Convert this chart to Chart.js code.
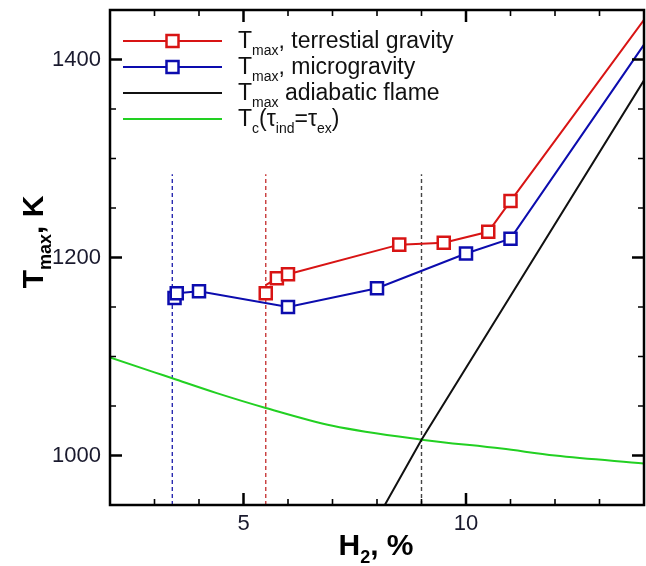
<!DOCTYPE html>
<html>
<head>
<meta charset="utf-8">
<script src="https://cdn.jsdelivr.net/npm/chart.js@4/dist/chart.umd.min.js"></script>
<style>
  html, body { margin: 0; padding: 0; background: #fff; }
  canvas { display: block; }
</style>
</head>
<body>
<canvas id="c" width="646" height="566"></canvas>
<script>
// Maximum flame temperature vs hydrogen concentration
// Terrestrial gravity: curve path (first point starts the line, last point is the extension)
const h2Terrestrial   = [5.5, 5.75, 6.0, 8.5, 9.5, 10.5, 11.0, 14.0];
const tmaxTerrestrial = [1172, 1179, 1183, 1213, 1215, 1226, 1257, 1440];
// lone terrestrial measurement at the lean limit
const h2TerrestrialExtra   = [5.5];
const tmaxTerrestrialExtra = [1164];

// Microgravity
const h2Micro   = [3.5, 4.0, 6.0, 8.0, 10.0, 11.0, 14.0];
const tmaxMicro = [1164, 1166, 1150, 1169, 1204, 1219, 1415];
const h2MicroExtra   = [3.45];
const tmaxMicroExtra = [1159];

// Adiabatic flame temperature
const h2Adiabatic   = [8.0, 9.0, 14.0];
const tmaxAdiabatic = [936, 1016, 1379];

// Crossover temperature Tc (tau_ind = tau_ex)
const h2Crossover = [2, 3, 3.4, 4.4, 5.5, 7, 9, 10.8, 12, 14];
const tCrossover  = [1099, 1084, 1078, 1063, 1048, 1030, 1016, 1007, 1000, 992];

// Lean limits (vertical dashed markers)
const limitMicro = 3.4;
const limitTerrestrial = 5.5;
const limitAdiabatic = 9.0;
const limitLow = 950;
const limitHigh = 1284;

// Axis settings
const xMin = 2, xMax = 14, xStep = 1;
const yMin = 950, yMax = 1450, yStep = 50;
const xLabelled = [5, 10];
const yLabelled = [1000, 1200, 1400];

const RED = '#d81414';
const BLUE = '#0c0cae';
const GREEN = '#22d022';
const BLACK = '#111111';

const pts = (xs, ys) => xs.map((v, i) => ({ x: v, y: ys[i] }));

// draws text with subscript parts: [[text, isSub], ...]
function richText(ctx, parts, x, y, size, subSize, subDrop, weight) {
  let cx = x;
  parts.forEach(([t, sub]) => {
    ctx.font = `${weight} ${sub ? subSize : size}px "Liberation Sans", Arial, sans-serif`;
    ctx.fillText(t, cx, sub ? y + subDrop : y);
    cx += ctx.measureText(t).width;
  });
  return cx - x;
}
function richWidth(ctx, parts, size, subSize, weight) {
  let w = 0;
  parts.forEach(([t, sub]) => {
    ctx.font = `${weight} ${sub ? subSize : size}px "Liberation Sans", Arial, sans-serif`;
    w += ctx.measureText(t).width;
  });
  return w;
}

const legendItems = [
  { color: RED, marker: true, parts: [['T', 0], ['max', 1], [', terrestial gravity', 0]] },
  { color: BLUE, marker: true, parts: [['T', 0], ['max', 1], [', microgravity', 0]] },
  { color: BLACK, marker: false, parts: [['T', 0], ['max', 1], [' adiabatic flame', 0]] },
  { color: GREEN, marker: false, parts: [['T', 0], ['c', 1], ['(τ', 0], ['ind', 1], ['=τ', 0], ['ex', 1], [')', 0]] }
];

const decorations = {
  id: 'decorations',
  afterDatasetsDraw(chart) {
    const { ctx, chartArea: a, scales: { x, y } } = chart;
    ctx.save();
    // tick marks pointing inward on all four sides
    ctx.strokeStyle = '#000';
    ctx.lineCap = 'butt';
    x.ticks.forEach(t => {
      const px = x.getPixelForValue(t.value);
      if (px <= a.left + 1 || px >= a.right - 1) return;
      const major = xLabelled.includes(t.value);
      const len = major ? 12 : 6;
      ctx.lineWidth = major ? 2.5 : 1.6;
      ctx.beginPath();
      ctx.moveTo(px, a.bottom); ctx.lineTo(px, a.bottom - len);
      ctx.moveTo(px, a.top); ctx.lineTo(px, a.top + len);
      ctx.stroke();
    });
    y.ticks.forEach(t => {
      const py = y.getPixelForValue(t.value);
      if (py <= a.top + 1 || py >= a.bottom - 1) return;
      const major = yLabelled.includes(t.value);
      const len = major ? 12 : 6;
      ctx.lineWidth = major ? 2.5 : 1.6;
      ctx.beginPath();
      ctx.moveTo(a.left, py); ctx.lineTo(a.left + len, py);
      ctx.moveTo(a.right, py); ctx.lineTo(a.right - len, py);
      ctx.stroke();
    });
    // frame
    ctx.lineWidth = 2.5;
    ctx.strokeRect(a.left, a.top, a.right - a.left, a.bottom - a.top);

    // legend
    const lx0 = 123, lx1 = 222, mx = 172.5, tx = 238;
    legendItems.forEach((it, i) => {
      const ly = 41 + i * 26;
      ctx.strokeStyle = it.color;
      ctx.lineWidth = 2;
      ctx.beginPath();
      ctx.moveTo(lx0, ly); ctx.lineTo(lx1, ly);
      ctx.stroke();
      if (it.marker) {
        ctx.fillStyle = '#fff';
        ctx.lineWidth = 2.5;
        ctx.fillRect(mx - 6, ly - 6, 12, 12);
        ctx.strokeRect(mx - 6, ly - 6, 12, 12);
      }
      ctx.fillStyle = '#111';
      ctx.textBaseline = 'alphabetic';
      ctx.textAlign = 'left';
      richText(ctx, it.parts, tx, ly + 7, 23, 14, 6.5, 'normal');
    });

    // axis titles
    ctx.fillStyle = '#000';
    const xt = [['H', 0], ['2', 1], [', %', 0]];
    const xw = richWidth(ctx, xt, 30, 18, 'bold');
    richText(ctx, xt, 376 - xw / 2, 555, 30, 18, 8, 'bold');

    const yt = [['T', 0], ['max', 1], [', K', 0]];
    const yw = richWidth(ctx, yt, 30, 18, 'bold');
    ctx.translate(43, 242);
    ctx.rotate(-Math.PI / 2);
    richText(ctx, yt, -yw / 2, 0, 30, 18, 8, 'bold');
    ctx.restore();
  }
};

const vline = (xv, color) => ({
  data: [{ x: xv, y: limitLow }, { x: xv, y: limitHigh }],
  borderColor: color, borderWidth: 1.4, borderDash: [4, 3],
  pointRadius: 0, showLine: true, order: 5
});

const markerStyle = (color) => ({
  pointStyle: 'rect', pointBorderColor: color, pointBackgroundColor: '#fff',
  pointBorderWidth: 2.5, pointHoverRadius: 8.5
});

// fixed axis sizes, no extra edge padding from tick labels
const fitX = s => { s.height = 61; s.paddingLeft = 0; s.paddingRight = 0; s.paddingTop = 0; s.paddingBottom = 0; };
const fitY = s => { s.width = 110; s.paddingLeft = 0; s.paddingRight = 0; s.paddingTop = 0; s.paddingBottom = 0; };

new Chart(document.getElementById('c'), {
  type: 'scatter',
  data: {
    datasets: [
      Object.assign({
        label: 'Tmax, terrestial gravity',
        data: pts(h2Terrestrial, tmaxTerrestrial),
        showLine: true, borderColor: RED, borderWidth: 2,
        pointRadius: ctx => (ctx.dataIndex === 0 || ctx.dataIndex === h2Terrestrial.length - 1) ? 0 : 8.5,
        order: 0
      }, markerStyle(RED)),
      Object.assign({
        label: 'Tmax, terrestial gravity (limit)',
        data: pts(h2TerrestrialExtra, tmaxTerrestrialExtra),
        showLine: false, pointRadius: 8.5, order: 0
      }, markerStyle(RED)),
      Object.assign({
        label: 'Tmax, microgravity',
        data: pts(h2Micro, tmaxMicro),
        showLine: true, borderColor: BLUE, borderWidth: 2,
        pointRadius: ctx => (ctx.dataIndex === h2Micro.length - 1) ? 0 : 8.5,
        order: 1
      }, markerStyle(BLUE)),
      Object.assign({
        label: 'Tmax, microgravity (limit)',
        data: pts(h2MicroExtra, tmaxMicroExtra),
        showLine: false, pointRadius: 8.5, order: 1
      }, markerStyle(BLUE)),
      {
        label: 'Tmax adiabatic flame',
        data: pts(h2Adiabatic, tmaxAdiabatic),
        showLine: true, borderColor: BLACK, borderWidth: 2, pointRadius: 0, order: 3
      },
      {
        label: 'Tc',
        data: pts(h2Crossover, tCrossover),
        showLine: true, borderColor: GREEN, borderWidth: 2, pointRadius: 0,
        cubicInterpolationMode: 'monotone', order: 4
      },
      vline(limitMicro, '#2a2ab0'),
      vline(limitTerrestrial, '#c83a3a'),
      vline(limitAdiabatic, '#444444')
    ]
  },
  options: {
    responsive: false,
    animation: false,
    events: [],
    layout: { autoPadding: false, padding: { top: 10, right: 2, left: 0, bottom: 0 } },
    plugins: { legend: { display: false }, tooltip: { enabled: false }, title: { display: false } },
    scales: {
      x: {
        type: 'linear', min: xMin, max: xMax,
        grid: { display: false, drawTicks: false },
        border: { display: false },
        ticks: {
          stepSize: xStep, autoSkip: false, maxRotation: 0, padding: 6,
          color: '#1a1a2e',
          font: { family: '"Liberation Sans", Arial, sans-serif', size: 22 },
          callback: v => xLabelled.includes(v) ? String(v) : ''
        },
        afterFit: fitX
      },
      y: {
        type: 'linear', min: yMin, max: yMax,
        grid: { display: false, drawTicks: false },
        border: { display: false },
        ticks: {
          stepSize: yStep, autoSkip: false, padding: 9,
          color: '#1a1a2e',
          font: { family: '"Liberation Sans", Arial, sans-serif', size: 22 },
          callback: v => yLabelled.includes(v) ? String(v) : ''
        },
        afterFit: fitY
      }
    }
  },
  plugins: [decorations]
});
</script>
</body>
</html>
